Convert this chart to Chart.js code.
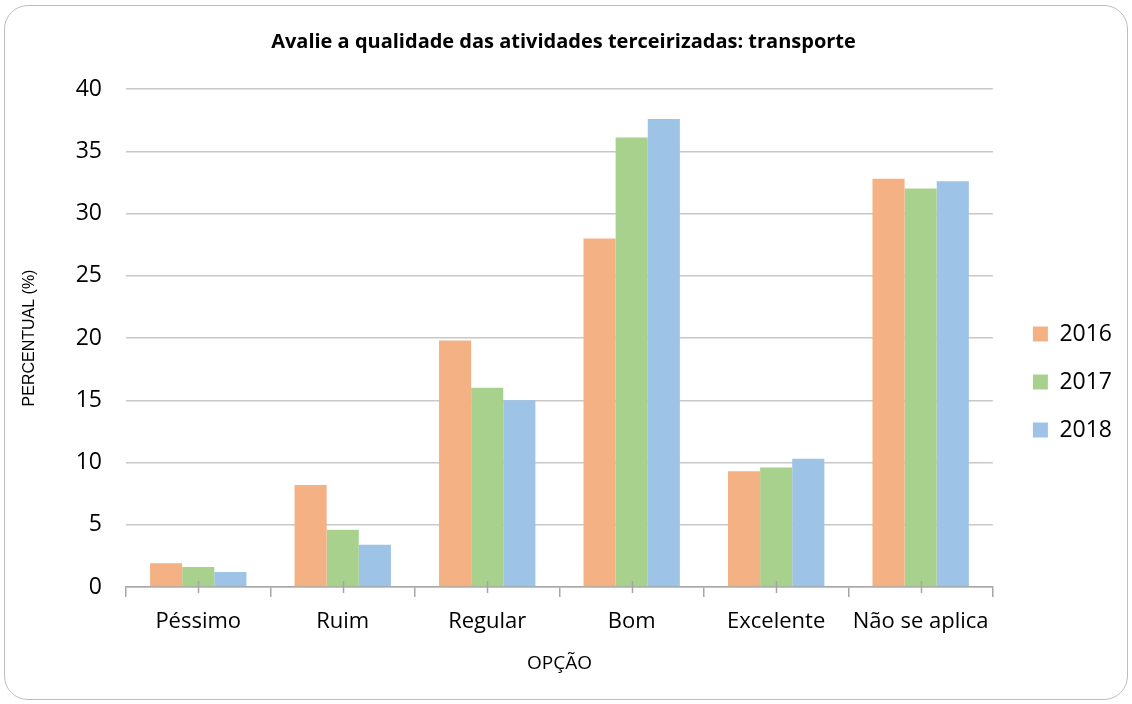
<!DOCTYPE html>
<html>
<head>
<meta charset="utf-8">
<script src="https://cdn.jsdelivr.net/npm/chart.js@4/dist/chart.umd.min.js"></script>
<style>
  html, body { margin: 0; padding: 0; background: #fff; }
  #wrap { position: relative; width: 1132px; height: 704px; }
  #frame {
    position: absolute; left: 4px; top: 5px; width: 1122px; height: 693px;
    border: 1.5px solid #bdbdbd; border-radius: 24px; pointer-events: none;
  }
</style>
</head>
<body>
<div id="wrap">
  <canvas id="chart" width="1132" height="704"></canvas>
  <div id="frame"></div>
</div>
<script>
const categories = ['Péssimo', 'Ruim', 'Regular', 'Bom', 'Excelente', 'Não se aplica']
const years = ['2016', '2017', '2018']
const v2016 = [1.9, 8.2, 19.8, 28.0, 9.3, 32.8]
const v2017 = [1.6, 4.6, 16.0, 36.1, 9.6, 32.0]
const v2018 = [1.2, 3.4, 15.0, 37.6, 10.3, 32.6]
const yTicks = [0, 5, 10, 15, 20, 25, 30, 35, 40]

const colors = ['#F4B183', '#A9D18E', '#9DC3E6']
const fontFamily = '"Open Sans", sans-serif'

// small ticks at the centre of each category, crossing the x axis line
const centerTicks = {
  id: 'centerTicks',
  afterDraw(chart) {
    const x = chart.scales.x
    const ctx = chart.ctx
    ctx.save()
    ctx.strokeStyle = '#a6a6a6'
    ctx.lineWidth = 1.5
    categories.forEach((c, i) => {
      const px = Math.round(x.getPixelForValue(i)) + 0.5
      ctx.beginPath()
      ctx.moveTo(px, x.top - 6)
      ctx.lineTo(px, x.top + 6)
      ctx.stroke()
    })
    ctx.restore()
  }
}

// move the legend block a bit right and down from where the layout puts it
const legendNudge = {
  id: 'legendNudge',
  afterLayout(chart, args, opts) {
    const lg = chart.legend
    lg.left += opts.dx; lg.right += opts.dx
    lg.top += opts.dy; lg.bottom += opts.dy
  }
}

const ctx = document.getElementById('chart').getContext('2d')

const chart = new Chart(ctx, {
  type: 'bar',
  data: {
    labels: categories,
    datasets: [
      { label: years[0], data: v2016, backgroundColor: colors[0] },
      { label: years[1], data: v2017, backgroundColor: colors[1] },
      { label: years[2], data: v2018, backgroundColor: colors[2] }
    ]
  },
  plugins: [centerTicks, legendNudge],
  options: {
    responsive: false,
    animation: false,
    events: [],
    layout: { padding: { left: 20, right: 25, top: 20, bottom: 20 } },
    datasets: { bar: { categoryPercentage: 0.667, barPercentage: 1.0 } },
    scales: {
      x: {
        grid: { display: true, drawOnChartArea: false, drawTicks: true, tickLength: 10, color: '#a6a6a6', lineWidth: 1.5, offset: true },
        border: { display: true, color: '#a6a6a6', width: 1.5 },
        ticks: { color: '#000', font: { family: fontFamily, size: 22 }, padding: 12, maxRotation: 0 },
        title: { display: true, text: 'OPÇÃO', color: '#000', font: { family: fontFamily, size: 19 }, padding: { top: 0, bottom: 9 } },
        afterFit: s => { s.height = 97 }
      },
      y: {
        min: 0, max: 40,
        afterBuildTicks: s => { s.ticks = yTicks.map(v => ({ value: v })) },
        grid: { color: '#c8c8c8', lineWidth: 1.5, drawTicks: false },
        border: { display: false },
        ticks: { color: '#000', font: { family: fontFamily, size: 23 }, padding: 24 },
        title: { display: true, text: 'PERCENTUAL (%)', color: '#000', font: { family: '"Liberation Sans", Arial, sans-serif', size: 16 }, padding: { top: 0, bottom: 0 } },
        afterFit: s => { s.width = 106 }
      }
    },
    plugins: {
      title: {
        display: true,
        text: 'Avalie a qualidade das atividades terceirizadas: transporte',
        color: '#000',
        font: { family: fontFamily, size: 20, weight: 'bold' },
        padding: { top: 10, bottom: 35 }
      },
      legend: {
        position: 'right',
        fullSize: false,
        labels: { boxWidth: 15, boxHeight: 15, padding: 25, color: '#000', font: { family: fontFamily, size: 23 } }
      },
      legendNudge: { dx: 15, dy: 44 },
      tooltip: { enabled: false }
    }
  }
})
</script>
</body>
</html>
